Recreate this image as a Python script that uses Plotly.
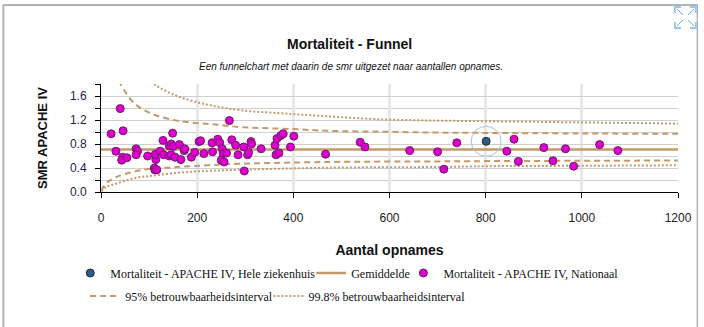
import plotly.graph_objects as go

# --- data -----------------------------------------------------------------
# national hospitals: (admissions, SMR)
nat_n = [21, 40, 46, 31, 45, 43, 54, 73, 76, 73, 97, 111, 112, 116, 114, 113, 123, 129,
         130, 142, 142, 146, 149, 150, 146, 154, 163, 166, 173, 174, 188, 195, 204, 207,
         214, 231, 232, 267, 243, 247, 252, 254, 261, 250, 256, 272, 280, 285, 297, 298,
         305, 307, 312, 313, 333, 362, 364, 370, 366, 374, 379, 394, 401, 467, 539, 549,
         642, 700, 713, 740, 859, 844, 868, 921, 940, 966, 983, 1037, 1075]
nat_smr = [0.97, 1.39, 1.02, 0.68, 0.58, 0.53, 0.57, 0.72, 0.68, 0.62, 0.60, 0.40, 0.37, 0.37,
           0.54, 0.63, 0.68, 0.86, 0.62, 0.60, 0.77, 0.80, 0.98, 0.76, 0.62, 0.58, 0.79, 0.54,
           0.69, 0.72, 0.58, 0.66, 0.84, 0.855, 0.64, 0.82, 0.67, 1.19, 0.88, 0.82, 0.72, 0.64,
           0.65, 0.53, 0.50, 0.87, 0.78, 0.62, 0.75, 0.35, 0.62, 0.66, 0.84, 0.80, 0.72, 0.78,
           0.62, 0.65, 0.89, 0.94, 0.97, 0.75, 0.93, 0.63, 0.83, 0.75, 0.69, 0.67, 0.38, 0.82,
           0.88, 0.68, 0.51, 0.74, 0.52, 0.72, 0.43, 0.79, 0.69]

# own hospital
own_n = [801]
own_smr = [0.845]

# national mean SMR
mean_smr = 0.71
mean_n = [0, 1200]

# 95% control limits
ci95_up_n = [38, 42, 69, 104, 145, 186, 231, 293, 396, 472, 588, 698, 800, 1000, 1200]
ci95_up_v = [1.86, 1.78, 1.48, 1.31, 1.21, 1.16, 1.13, 1.08, 1.05, 1.02, 1.005, 0.99, 0.985, 0.975, 0.97]
ci95_lo_n = [1, 3, 10, 18, 35, 69, 104, 145, 186, 231, 286, 472, 698, 800, 1000, 1200]
ci95_lo_v = [0.02, 0.06, 0.14, 0.19, 0.26, 0.34, 0.39, 0.41, 0.43, 0.45, 0.47, 0.50, 0.51, 0.515, 0.52, 0.525]

# 99.8% control limits
ci998_up_n = [105, 114, 152, 193, 231, 293, 396, 472, 588, 698, 802, 1000, 1200]
ci998_up_v = [1.85, 1.78, 1.62, 1.51, 1.44, 1.36, 1.30, 1.26, 1.21, 1.19, 1.18, 1.16, 1.14]
ci998_lo_n = [1, 10, 28, 69, 104, 145, 193, 231, 286, 472, 698, 802, 1000, 1200]
ci998_lo_v = [0.01, 0.08, 0.13, 0.23, 0.27, 0.31, 0.34, 0.355, 0.37, 0.405, 0.417, 0.43, 0.437, 0.445]

x_ticks = [0, 200, 400, 600, 800, 1000, 1200]

# --- layout geometry helpers (pixel -> paper) ---------------------------
W, H = 704, 327
ML, MR, MT, MB = 101, 21, 84, 135
PW, PH = W - ML - MR, H - MT - MB


def px(x):
    return (x - ML) / PW


def py(y):
    return (H - MB - y) / PH


LIMIT = "#c49a6c"
FONT = "Liberation Sans, Arial, sans-serif"
LEGFONT = dict(family="Liberation Serif, Times New Roman, serif", size=12, color="#111")

fig = go.Figure()

fig.add_trace(go.Scatter(
    x=ci998_up_n + [None] + ci998_lo_n, y=ci998_up_v + [None] + ci998_lo_v,
    mode="lines", line=dict(color=LIMIT, width=2, dash="2px,2px", shape="spline"),
    name="99.8% betrouwbaarheidsinterval", legend="legend5", hoverinfo="skip"))
fig.add_trace(go.Scatter(
    x=ci95_up_n + [None] + ci95_lo_n, y=ci95_up_v + [None] + ci95_lo_v,
    mode="lines", line=dict(color=LIMIT, width=2, dash="6px,4px", shape="spline"),
    name="95% betrouwbaarheidsinterval", legend="legend4", hoverinfo="skip"))
fig.add_trace(go.Scatter(
    x=mean_n, y=[mean_smr] * len(mean_n), mode="lines",
    line=dict(color=LIMIT, width=2.5), name="Gemiddelde", legend="legend2"))
fig.add_trace(go.Scatter(
    x=nat_n, y=nat_smr, mode="markers",
    marker=dict(size=8, color="#dd00cc", line=dict(color="#6e1a6e", width=1)),
    name="Mortaliteit - APACHE IV, Nationaal", legend="legend3"))
fig.add_trace(go.Scatter(
    x=own_n, y=own_smr, mode="markers",
    marker=dict(size=30, symbol="circle-open", color="#a9c2dc", line=dict(width=1)),
    showlegend=False, hoverinfo="skip"))
fig.add_trace(go.Scatter(
    x=own_n, y=own_smr, mode="markers",
    marker=dict(size=8, color="#2f5a88", line=dict(color="#1c2f45", width=1)),
    name="Mortaliteit - APACHE IV, Hele ziekenhuis", legend="legend"))


def leg(text_x, row_y):
    return dict(x=px(text_x - 40), y=py(row_y), xanchor="left", yanchor="middle",
                orientation="h", font=LEGFONT, bgcolor="rgba(0,0,0,0)",
                itemclick=False, itemdoubleclick=False)


ROW1, ROW2 = 273, 296

# frame and expand icon around the chart panel
shapes = [
    dict(type="line", xref="paper", yref="paper", x0=px(2.5), x1=px(2.5), y0=py(5), y1=py(330),
         line=dict(color="#b4b4b4", width=2)),
    dict(type="line", xref="paper", yref="paper", x0=px(2), x1=px(703), y0=py(5), y1=py(5),
         line=dict(color="#b4b4b4", width=2)),
    dict(type="line", xref="paper", yref="paper", x0=px(702.5), x1=px(702.5), y0=py(5), y1=py(330),
         line=dict(color="#b4b4b4", width=1.5)),
]
icon = "#6aa8ea"
ix0, ix1, iy0, iy1 = 680, 701, 7, 28
for cx, cy, dx, dy in [(ix0, iy0, 1, 1), (ix1, iy0, -1, 1), (ix0, iy1, 1, -1), (ix1, iy1, -1, -1)]:
    shapes.append(dict(type="path", xref="paper", yref="paper",
                       path=f"M {px(cx + 6 * dx)} {py(cy)} L {px(cx)} {py(cy)} L {px(cx)} {py(cy + 6 * dy)}",
                       line=dict(color="#9cc6f2", width=2)))
    shapes.append(dict(type="line", xref="paper", yref="paper",
                       x0=px(cx + 2 * dx), y0=py(cy + 2 * dy), x1=px(cx + 8 * dx), y1=py(cy + 8 * dy),
                       line=dict(color=icon, width=1)))

fig.update_layout(
    width=W, height=H,
    margin=dict(l=ML, r=MR, t=MT, b=MB),
    paper_bgcolor="white", plot_bgcolor="white",
    font=dict(family=FONT, size=12, color="#222"),
    showlegend=True,
    legend=leg(110, ROW1),
    legend2=leg(353, ROW1),
    legend3=leg(446, ROW1),
    legend4=leg(125, ROW2),
    legend5=leg(310, ROW2),
    shapes=shapes,
    annotations=[
        dict(text="<b>Mortaliteit - Funnel</b>", xref="paper", yref="paper", x=px(352), y=py(34),
             showarrow=False, font=dict(size=14, color="#111", family=FONT)),
        dict(text="<i>Een funnelchart met daarin de smr uitgezet naar aantallen opnames.</i>",
             xref="paper", yref="paper", x=px(353), y=py(59), showarrow=False,
             font=dict(size=10, color="#111", family=FONT)),
    ],
    xaxis=dict(
        range=[0, 1200], tickvals=x_ticks, ticks="outside", ticklen=5, tickcolor="black",
        showline=True, linecolor="black", linewidth=1, zeroline=False,
        showgrid=True, gridcolor="#e8e8e8", gridwidth=2.5,
        tickfont=dict(size=12, color="#222"), ticklabelstandoff=10,
        title=dict(text="<b>Aantal opnames</b>", font=dict(size=14, color="#111"), standoff=20),
    ),
    yaxis=dict(
        range=[0, 1.8], dtick=0.4, tick0=0, tickformat=".1f", ticks="outside", ticklen=5,
        tickcolor="black", showline=True, linecolor="black", linewidth=1, zeroline=False,
        showgrid=True, gridcolor="#cfcfcf", gridwidth=1,
        minor=dict(dtick=0.2, tick0=0, ticks="outside", ticklen=5, tickcolor="black",
                   showgrid=True, gridcolor="#cfcfcf", gridwidth=1),
        tickfont=dict(size=12, color="#1c1c4a"), ticklabelstandoff=6,
        title=dict(text="<b>SMR APACHE IV</b>", font=dict(size=13, color="#111"), standoff=19),
    ),
)

fig.write_html("out.html")
